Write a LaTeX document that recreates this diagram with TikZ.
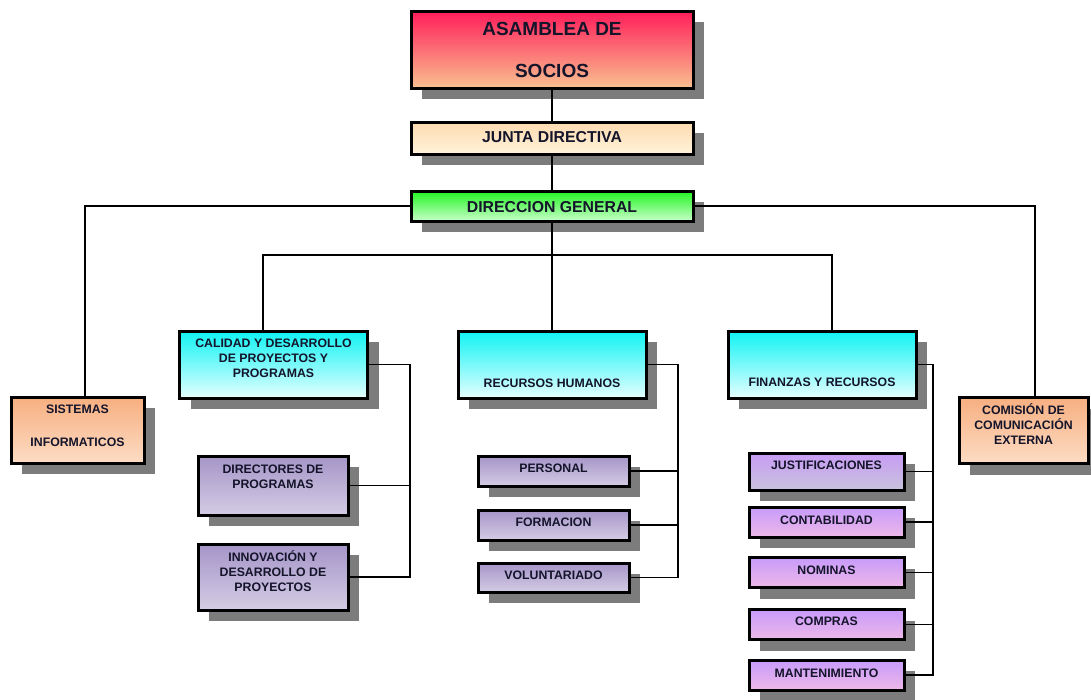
\documentclass[tikz,border=0pt]{standalone}
\usepackage{fontspec}
\setmainfont{Liberation Sans}
\usetikzlibrary{shadows,calc}
\definecolor{asamT}{HTML}{FF1E5A}
\definecolor{asamB}{HTML}{F9C090}
\definecolor{juntaT}{HTML}{FDDBB0}
\definecolor{juntaB}{HTML}{FFF3DA}
\definecolor{dirT}{HTML}{22F522}
\definecolor{dirB}{HTML}{C8FFC8}
\definecolor{cyanT}{HTML}{10F3F3}
\definecolor{cyanB}{HTML}{E5FFFF}
\definecolor{peachT}{HTML}{F7AF80}
\definecolor{peachB}{HTML}{FCDCC4}
\definecolor{gpT}{HTML}{A595C8}
\definecolor{gpB}{HTML}{D4CCE4}
\definecolor{justT}{HTML}{C89CF5}
\definecolor{justB}{HTML}{C8C2DC}
\definecolor{vioT}{HTML}{C79BFA}
\definecolor{vioB}{HTML}{EEB8E8}
\definecolor{shadowc}{HTML}{7C7C7C}
\definecolor{textc}{HTML}{14142A}
\newcommand{\bt}[2]{\raisebox{#1pt}[0pt][0pt]{\begin{tabular}{@{}c@{}}#2\end{tabular}}}
\tikzset{
  orgbox/.style={draw=black, line width=3pt, rectangle, inner sep=0pt,
    drop shadow={shadow xshift=11pt, shadow yshift=-11pt, fill=shadowc, opacity=1},
    font=\bfseries\fontsize{12.3}{15}\selectfont, text=textc},
  topbox/.style={orgbox, minimum width=282pt, font=\bfseries\fontsize{15.8}{19}\selectfont},
  cyanbox/.style={orgbox, minimum width=188pt, minimum height=67pt, top color=cyanT, bottom color=cyanB},
  peachbox/.style={orgbox, minimum height=66pt, top color=peachT, bottom color=peachB},
  gpbox/.style={orgbox, top color=gpT, bottom color=gpB},
  viobox/.style={orgbox, minimum width=155pt, minimum height=30pt, top color=vioT, bottom color=vioB},
  conn/.style={line width=1.4pt, draw=black}
}
\begin{document}
\begin{tikzpicture}[x=1pt,y=-1pt]
\useasboundingbox (0,0) rectangle (1091,699);
% top
\node[topbox, minimum height=77pt, top color=asamT, bottom color=asamB,
  font=\bfseries\fontsize{19}{22.8}\selectfont] (asam) at (552,49.5)
  {\bt{-7}{ASAMBLEA DE\\[19.2pt]SOCIOS}};
\node[topbox, minimum height=32pt, top color=juntaT, bottom color=juntaB] (junta) at (552,138)
  {\bt{-3.8}{JUNTA DIRECTIVA}};
\node[topbox, minimum height=30pt, top color=dirT, bottom color=dirB] (dir) at (552,206)
  {\bt{-6.5}{DIRECCION GENERAL}};
% side boxes
\node[peachbox, minimum width=133pt] (sis) at (77.5,430)
  {\bt{0.1}{SISTEMAS\\[18pt]INFORMATICOS}};
\node[peachbox, minimum width=129pt] (com) at (1023.5,430.5)
  {\bt{1.1}{COMISIÓN DE\\COMUNICACIÓN\\EXTERNA}};
% middle level
\node[cyanbox] (cal) at (273.5,364.5)
  {\bt{2.1}{CALIDAD Y DESARROLLO\\DE PROYECTOS Y\\PROGRAMAS}};
\node[cyanbox] (rec) at (552,364.5) {\bt{-22.9}{RECURSOS HUMANOS}};
\node[cyanbox] (fin) at (822,364.5) {\bt{-21.9}{FINANZAS Y RECURSOS}};
% calidad children
\node[gpbox, minimum width=150pt, minimum height=59pt] (dirp) at (273,485.5)
  {\bt{4.6}{DIRECTORES DE\\PROGRAMAS}};
\node[gpbox, minimum width=150pt, minimum height=66pt] (inno) at (273,577)
  {\bt{1.1}{INNOVACIÓN Y\\DESARROLLO DE\\PROYECTOS}};
% recursos children
\node[gpbox, minimum width=151pt, minimum height=30pt] (pers) at (553.5,471) {\bt{-1.4}{PERSONAL}};
\node[gpbox, minimum width=151pt, minimum height=30pt] (form) at (553.5,525) {\bt{-1.4}{FORMACION}};
\node[gpbox, minimum width=151pt, minimum height=29pt] (vol) at (553.5,577.5) {\bt{-1.9}{VOLUNTARIADO}};
% finanzas children
\node[orgbox, minimum width=155pt, minimum height=37pt, top color=justT, bottom color=justB] (just) at (826.5,471.5)
  {\bt{2.1}{JUSTIFICACIONES}};
\node[viobox] (cont) at (826.5,522) {\bt{-2.4}{CONTABILIDAD}};
\node[viobox] (nom) at (826.5,572.5) {\bt{-1.9}{NOMINAS}};
\node[viobox] (comp) at (826.5,624.5) {\bt{-0.9}{COMPRAS}};
\node[viobox] (mant) at (826.5,675) {\bt{-2.4}{MANTENIMIENTO}};
% connectors
\draw[conn] (asam.south) -- (junta.north);
\draw[conn] (junta.south) -- (dir.north);
\draw[conn] (dir.west) -| ([xshift=7.5pt]sis.north);
\draw[conn] (dir.east) -| ([xshift=11.5pt]com.north);
\coordinate (bus) at (552,255);
\draw[conn] (dir.south) -- (bus);
\draw[conn] ([xshift=-10.5pt]cal.north) |- (bus) -| ([xshift=10pt]fin.north);
\draw[conn] (bus) -- (rec.north);
\coordinate (cx) at (410,0);
\coordinate (rx) at (678,0);
\coordinate (fx) at (933,0);
\draw[conn] (cal.east) -| (cx |- inno.east) -- (inno.east);
\draw[conn] (dirp.east) -- (cx |- dirp.east);
\draw[conn] (rec.east) -| (rx |- vol.east) -- (vol.east);
\draw[conn] (pers.east) -- (rx |- pers.east);
\draw[conn] (form.east) -- (rx |- form.east);
\draw[conn] (fin.east) -| (fx |- mant.east) -- (mant.east);
\draw[conn] (just.east) -- (fx |- just.east);
\draw[conn] (cont.east) -- (fx |- cont.east);
\draw[conn] (nom.east) -- (fx |- nom.east);
\draw[conn] (comp.east) -- (fx |- comp.east);
\end{tikzpicture}
\end{document}
